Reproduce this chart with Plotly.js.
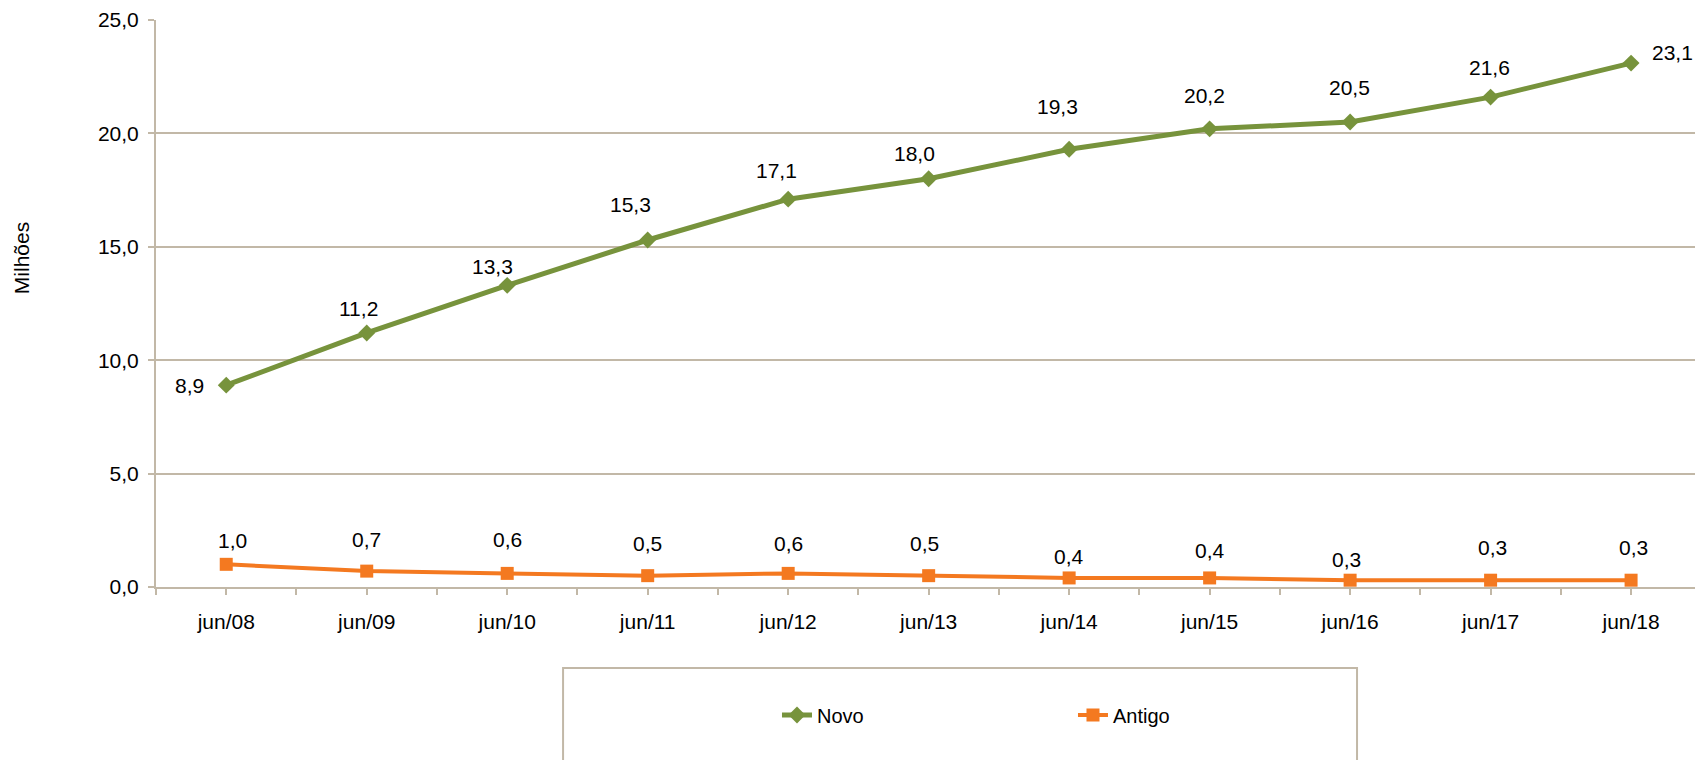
<!DOCTYPE html>
<html>
<head>
<meta charset="utf-8">
<script src="https://cdn.plot.ly/plotly-3.0.1.min.js"></script>
<style>html,body{margin:0;padding:0;background:#fff;}#chart{width:1695px;height:760px;}</style>
</head>
<body>
<div id="chart"></div>
<script>
// ---- data ----
const categories = ['jun/08','jun/09','jun/10','jun/11','jun/12','jun/13','jun/14','jun/15','jun/16','jun/17','jun/18'];
const novo   = [8.9, 11.2, 13.3, 15.3, 17.1, 18.0, 19.3, 20.2, 20.5, 21.6, 23.1];
const antigo = [1.0, 0.7, 0.6, 0.5, 0.6, 0.5, 0.4, 0.4, 0.3, 0.3, 0.3];
const seriesNames = ['Novo', 'Antigo'];
const yTitle = 'Milhões';

// ---- label placement (style, pixel offsets from each marker) ----
const novoLabelDx   = [-37, -8, -15, -17, -12, -14, -12, -5, -1, -1, 41];
const novoLabelDy   = [0, 24, 19, 36, 29, 25, 43, 33, 35, 30, 11];
const antigoLabelDx = [6, 0, 0, 0, 0, -4, 0, 0, -4, 2, 2];
const antigoLabelDy = [24, 32, 34, 32, 30, 32, 21, 27, 21, 33, 33];

const GREEN = '#77933C';
const ORANGE = '#F47920';
const GRID = '#C2B8A7';
const FONT = 'Liberation Sans, Arial, sans-serif';
const FS = 21;

const xIdx = categories.map((c, i) => i);
const fmt = v => v.toFixed(1).replace('.', ',');

const traces = [
  {
    x: xIdx, y: novo, name: seriesNames[0], type: 'scatter', mode: 'lines+markers',
    line: {color: GREEN, width: 5},
    marker: {symbol: 'diamond', size: 13, color: GREEN},
    hoverinfo: 'skip'
  },
  {
    x: xIdx, y: antigo, name: seriesNames[1], type: 'scatter', mode: 'lines+markers',
    line: {color: ORANGE, width: 4},
    marker: {symbol: 'square', size: 13, color: ORANGE},
    hoverinfo: 'skip'
  }
];

const annotations = [];
function addLabels(vals, dx, dy) {
  vals.forEach((v, i) => {
    annotations.push({
      x: xIdx[i], y: v, xref: 'x', yref: 'y', text: fmt(v), showarrow: false,
      xshift: dx[i], yshift: dy[i],
      font: {family: FONT, size: FS, color: '#000'}
    });
  });
}
addLabels(novo, novoLabelDx, novoLabelDy);
addLabels(antigo, antigoLabelDx, antigoLabelDy);

// y-axis title as annotation (placed like the reference)
annotations.push({
  text: yTitle, xref: 'paper', yref: 'paper', x: -0.0877, y: 0.58,
  textangle: -90, showarrow: false, xanchor: 'center', yanchor: 'middle',
  font: {family: FONT, size: 21, color: '#000'}
});

const layout = {
  width: 1695, height: 760,
  margin: {l: 156, r: 0, t: 20, b: 173},
  paper_bgcolor: '#fff', plot_bgcolor: '#fff',
  separators: ',.',
  showlegend: true,
  font: {family: FONT, size: FS, color: '#000'},
  xaxis: {
    range: [-0.5, 10.455],
    tickmode: 'array', tickvals: xIdx, ticktext: categories,
    ticks: 'outside', ticklen: 6, tickwidth: 2, tickcolor: GRID,
    showgrid: false, zeroline: false,
    showline: true, linecolor: GRID, linewidth: 2,
    ticklabelstandoff: 9,
    tickfont: {family: FONT, size: FS, color: '#000'},
    minor: {tick0: 0.5, dtick: 1, ticks: 'outside', ticklen: 6, tickwidth: 2, tickcolor: GRID, showgrid: false},
    fixedrange: true
  },
  yaxis: {
    range: [0, 25], dtick: 5, tickformat: '.1f',
    ticks: 'outside', ticklen: 6, tickwidth: 2, tickcolor: GRID,
    showgrid: true, gridcolor: GRID, gridwidth: 2,
    zeroline: false, showline: true, linecolor: GRID, linewidth: 2,
    ticklabelstandoff: 5,
    tickfont: {family: FONT, size: FS, color: '#000'},
    fixedrange: true
  },
  legend: {
    orientation: 'h', x: 0.4035, y: -0.2257, xanchor: 'left', yanchor: 'middle',
    bgcolor: 'rgba(0,0,0,0)', borderwidth: 0,
    entrywidth: 251, entrywidthmode: 'pixels',
    font: {family: FONT, size: 20, color: '#000'}
  },
  shapes: [{
    type: 'rect', xref: 'paper', yref: 'paper',
    x0: 0.2645, x1: 0.7804, y0: -0.1429, y1: -0.45,
    line: {color: GRID, width: 2}, fillcolor: 'rgba(0,0,0,0)', layer: 'below'
  }],
  annotations: annotations
};

Plotly.newPlot('chart', traces, layout, {displayModeBar: false, staticPlot: true});
</script>
</body>
</html>
